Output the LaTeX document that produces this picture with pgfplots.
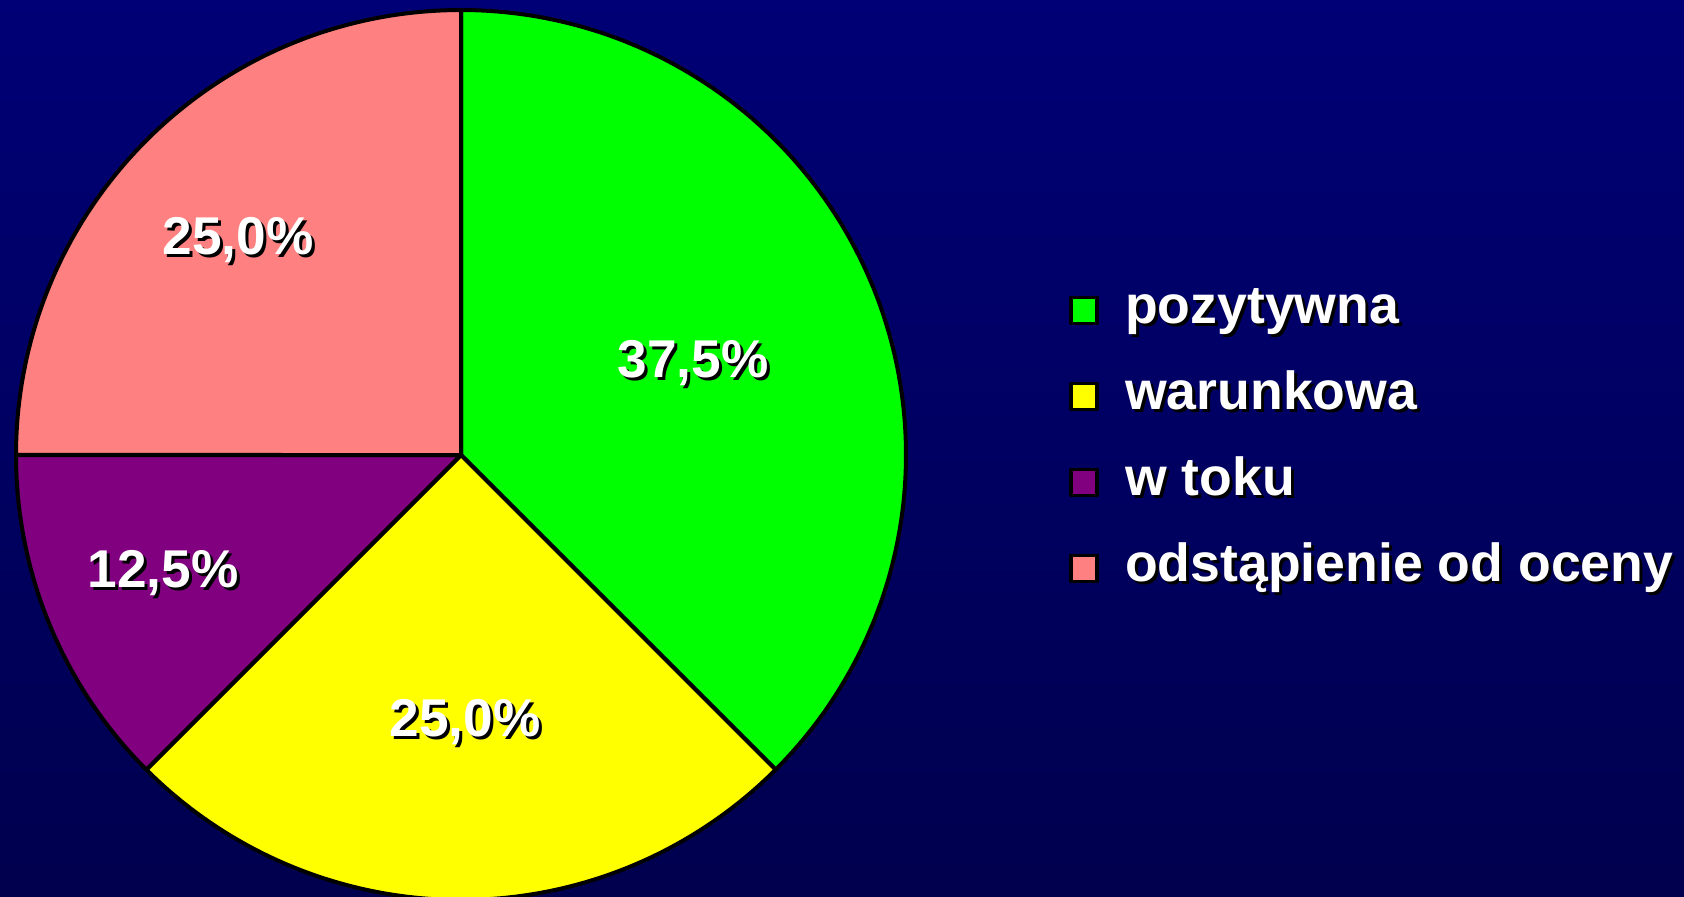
\documentclass[border=0pt]{standalone}
\usepackage{pgfplots}
\pgfplotsset{compat=1.18}
\usepackage{fontspec}
\setmainfont{Liberation Sans}
\definecolor{bgtop}{RGB}{0,0,118}
\definecolor{bgmid}{RGB}{0,0,142}
\definecolor{bgbot}{RGB}{0,0,78}
\definecolor{cgreen}{RGB}{0,255,0}
\definecolor{cyellow}{RGB}{255,255,0}
\definecolor{cpurple}{RGB}{128,0,128}
\definecolor{cpink}{RGB}{255,128,128}
\newcommand\sh[1]{\makebox[0pt][l]{\hspace{1.5pt}\raisebox{-1.5pt}{\color{black}#1}}#1}
\def\cx{461}\def\cy{441}\def\R{445}
% slice: colour, cumulative share before, share (percent)
\newcommand\slice[3]{%
  \pgfmathsetmacro\aS{90-3.6*#2}%
  \pgfmathsetmacro\aE{90-3.6*(#2+#3)}%
  \addplot[fill=#1, draw=black, line width=2pt, line join=round, domain=\aE:\aS, samples=150]
     ({\cx+\R*cos(x)},{\cy+\R*sin(x)}) -- (axis cs:\cx,\cy) -- cycle;}
\begin{document}
\begin{tikzpicture}
\shade[top color=bgtop, middle color=bgmid, bottom color=bgbot] (0,0) rectangle (842pt,448pt);
\begin{axis}[
  at={(0,0)}, anchor=origin,
  x=0.5pt, y=0.5pt, xmin=0, xmax=1684, ymin=0, ymax=896,
  hide axis, clip=true,
  legend cell align=left,
  legend image code/.code={\draw[#1, draw=black, line width=1.9pt] (0pt,-6.5pt) rectangle (13pt,6.5pt);},
  legend style={at={(axis cs:1069,611)}, anchor=north west, draw=none, fill=none,
     text=white, font=\fontsize{26.8}{30}\selectfont\bfseries, inner sep=0pt,
     row sep=18pt,
     nodes={inner sep=0pt, text height=19pt, text depth=6pt},
     /tikz/column 1/.style={column sep=13pt}},
]
\slice{cgreen}{0}{37.5}
\slice{cyellow}{37.5}{25.0}
\slice{cpurple}{62.5}{12.5}
\slice{cpink}{75.0}{25.0}
\legend{\sh{pozytywna},\sh{warunkowa},\sh{w toku},\sh{odstąpienie od oceny}}
\begin{scope}[every node/.style={text=white, font=\fontsize{26.6}{30}\selectfont\bfseries}]
\node at (axis cs:693,531) {\sh{37,5\%}};
\node at (axis cs:465,172) {\sh{25,0\%}};
\node at (axis cs:163,321) {\sh{12,5\%}};
\node at (axis cs:238,654) {\sh{25,0\%}};
\end{scope}
\end{axis}
\end{tikzpicture}
\end{document}
